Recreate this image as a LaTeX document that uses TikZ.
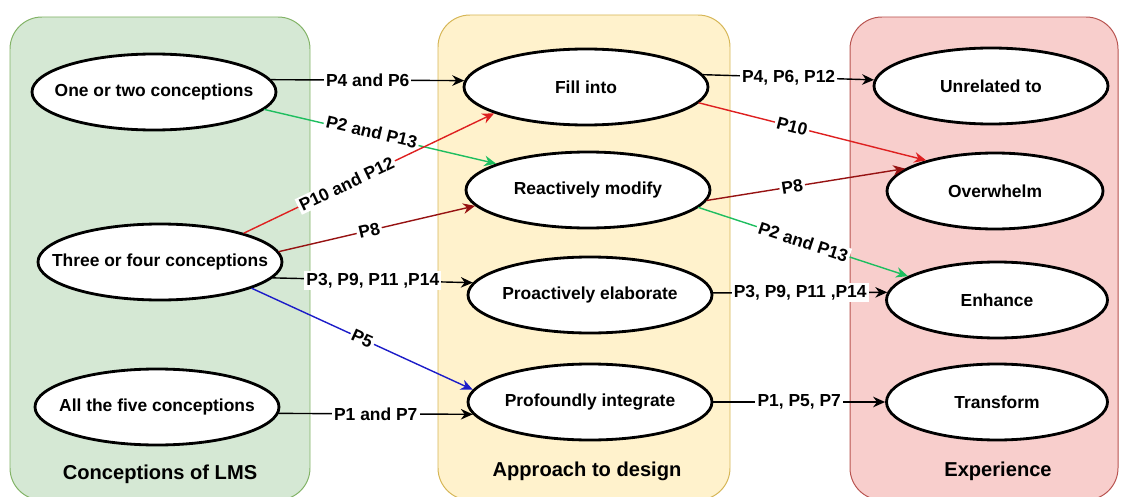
\documentclass[tikz,border=0pt]{standalone}
\usepackage{fontspec}
\setmainfont{Liberation Sans}
\usetikzlibrary{arrows.meta,shapes.geometric}
\definecolor{greenfill}{HTML}{D5E8D4}
\definecolor{greenline}{HTML}{82B366}
\definecolor{yellowfill}{HTML}{FFF2CC}
\definecolor{yellowline}{HTML}{D6B656}
\definecolor{redfill}{HTML}{F8CECC}
\definecolor{redline}{HTML}{B85450}
\definecolor{conngreen}{RGB}{30,190,95}
\definecolor{connred}{RGB}{222,32,32}
\definecolor{conndark}{RGB}{150,18,18}
\definecolor{connblue}{RGB}{28,28,200}
\newcommand{\elltext}[1]{\makebox[0pt]{#1}}
\begin{document}
\begin{tikzpicture}[font=\bfseries\fontsize{12.4}{14}\selectfont, line join=round, line cap=round, >={Stealth[length=8.5pt,width=7.5pt]},
		panel/.style={rounded corners=0.8cm, line width=0.7pt},
		state/.style={ellipse, draw, line width=2pt, fill=white, minimum width=6.1cm, minimum height=1.9cm, inner sep=0pt},
		title/.style={font=\bfseries\fontsize{14.3}{16}\selectfont},
		lab/.style={fill=white, inner sep=1.5pt},
		link/.style={->, line width=1pt}]
	\useasboundingbox (0,0) rectangle (28.05,12.4);
	% the three columns
	\draw[panel, fill=greenfill, draw=greenline] (0.25,-0.1) rectangle (7.75,11.975);
	\draw[panel, fill=yellowfill, draw=yellowline] (10.95,-0.1) rectangle (18.25,12.025);
	\draw[panel, fill=redfill, draw=redline] (21.25,-0.1) rectangle (27.95,11.975);
	\node[title] (tleft) at (4.0,0.55) {Conceptions of LMS};
	\node[title] (tmid) at (14.675,0.62) {Approach to design};
	\node[title] (tright) at (24.95,0.62) {Experience};
	% conceptions
	\node[state] (one) at (3.85,10.1) {\elltext{One or two conceptions}};
	\node[state] (three) at (4.0,5.85) {\elltext{Three or four conceptions}};
	\node[state] (five) at (3.925,2.225) {\elltext{All the five conceptions}};
	% approaches
	\node[state] (fill) at (14.65,10.225) {\elltext{Fill into}};
	\node[state] (react) at (14.7,7.65) {\elltext{Reactively modify}};
	\node[state] (proact) at (14.75,5.025) {\elltext{Proactively elaborate}};
	\node[state] (profound) at (14.75,2.35) {\elltext{Profoundly integrate}};
	% experiences
	\node[state, minimum width=5.85cm] (unrel) at (24.775,10.25) {\elltext{Unrelated to}};
	\node[state, minimum width=5.4cm] (overw) at (24.875,7.625) {\elltext{Overwhelm}};
	\node[state, minimum width=5.525cm] (enh) at (24.925,4.9) {\elltext{Enhance}};
	\node[state, minimum width=5.525cm] (transf) at (24.925,2.35) {\elltext{Transform}};
	% conceptions -> approaches
	\draw[link] (one.6) -- node[lab] {P4 and P6} (fill.177);
	\draw[link, conngreen] (one.-9) -- node[lab, sloped, text=black, pos=0.46, yshift=2pt] {P2 and P13} (react.164);
	\draw[link, connred] (three.19) -- node[lab, sloped, text=black, pos=0.41] {P10 and P12} (fill.196);
	\draw[link, conndark] (three.5) -- node[lab, sloped, text=black, pos=0.46] {P8} (react.188);
	\draw[link] (three.-8) -- node[lab] {P3, P9, P11 ,P14} (proact.174);
	\draw[link, connblue] (three.-16) -- node[lab, sloped, text=black] {P5} (profound.174);
	\draw[link] (five.-3) -- node[lab] {P1 and P7} (profound.186);
	% approaches -> experiences
	\draw[link] (fill.6) -- node[lab] {P4, P6, P12} (unrel.177);
	\draw[link, connred] (fill.-8) -- node[lab, sloped, text=black, pos=0.41] {P10} (overw.156);
	\draw[link, conndark] (react.-5) -- node[lab, sloped, text=black, pos=0.43] {P8} (overw.166);
	\draw[link, conngreen] (react.-9) -- node[lab, sloped, text=black] {P2 and P13} (enh.165);
	\draw[link] (proact.1) -- node[lab] {P3, P9, P11 ,P14} (enh.176);
	\draw[link] (profound.east) -- node[lab] {P1, P5, P7} (transf.west);
\end{tikzpicture}
\end{document}
